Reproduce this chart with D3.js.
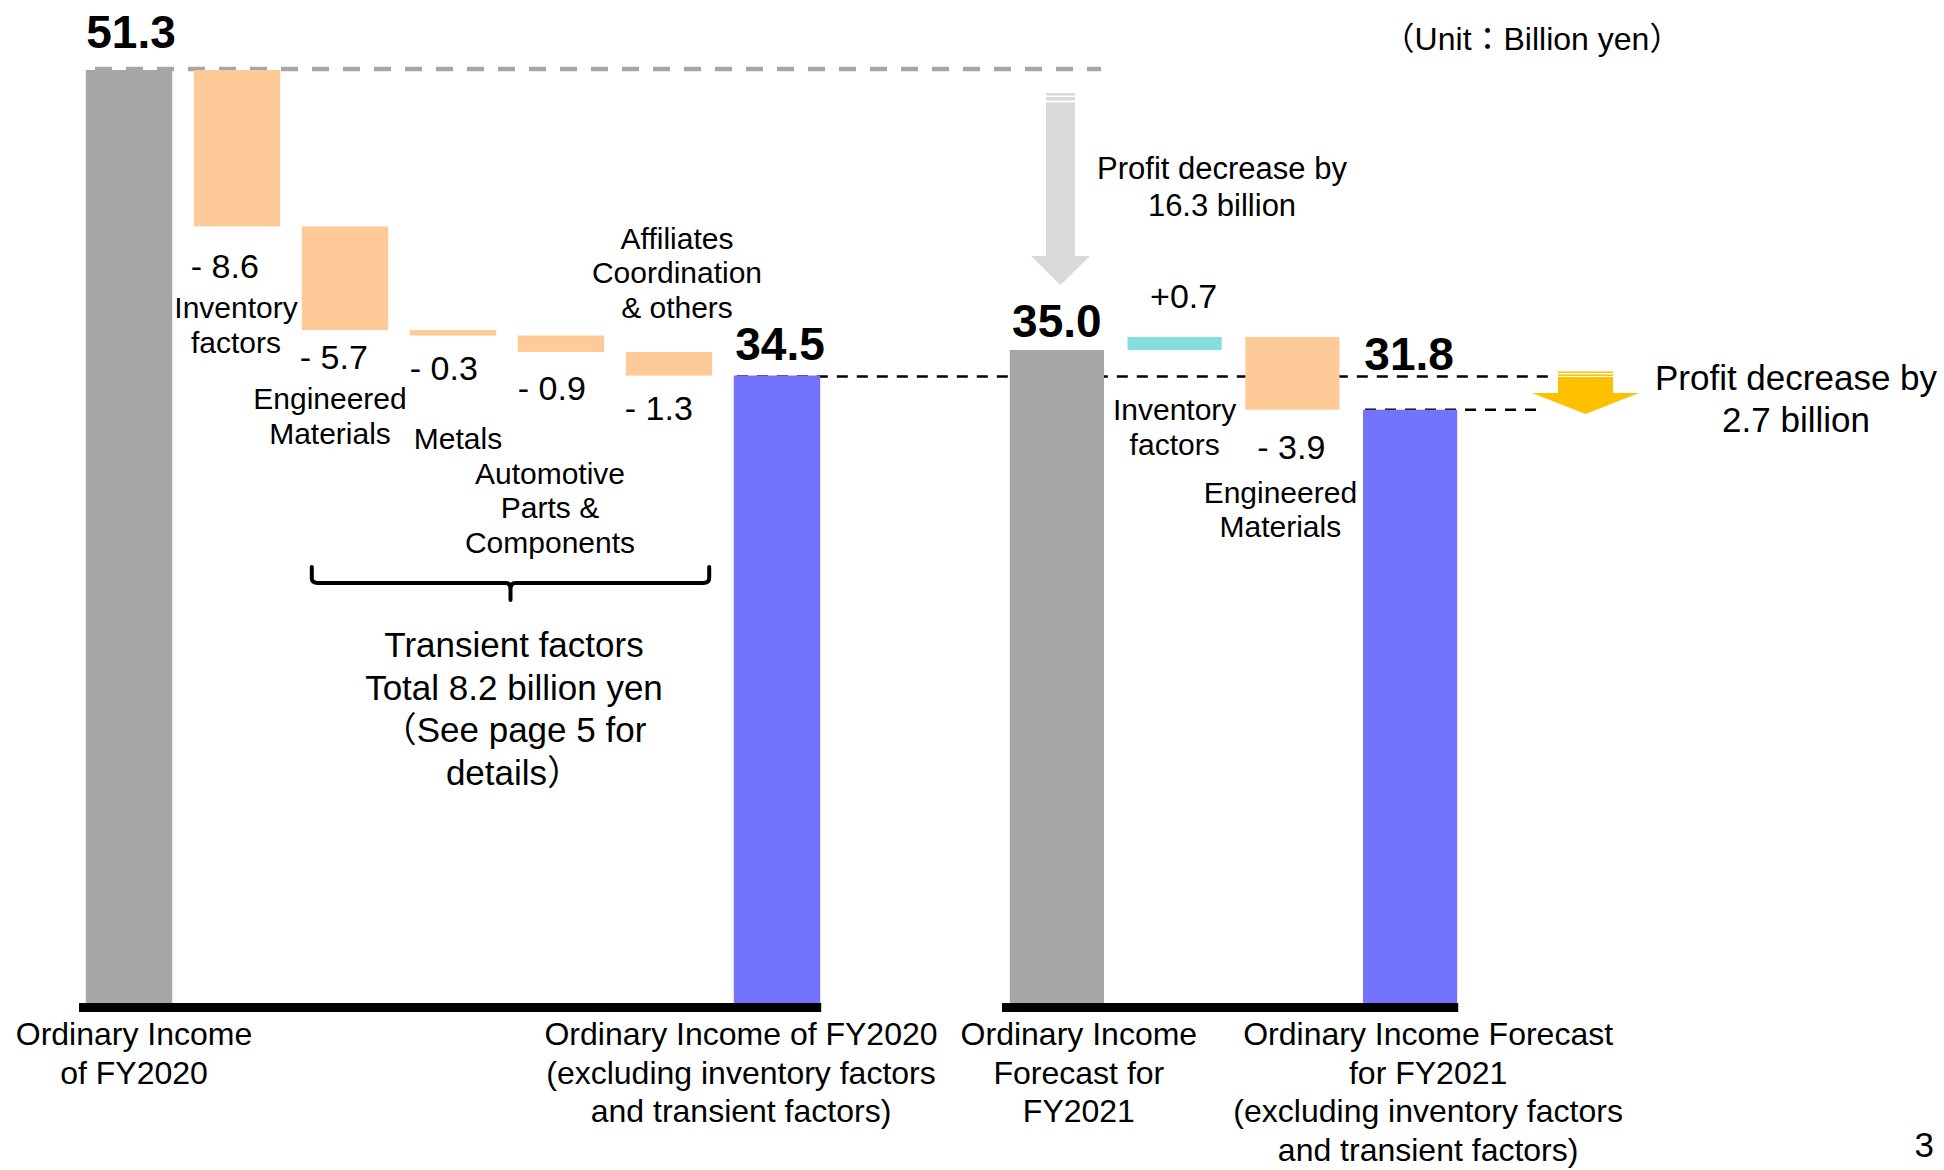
<!DOCTYPE html>
<html>
<head>
<meta charset="utf-8">
<script src="https://cdn.jsdelivr.net/npm/d3@7"></script>
<style>
  body { margin: 0; background: #fff; }
  svg text { font-family: "Liberation Sans", Arial, "Noto Sans CJK JP", sans-serif; fill: #000; }
</style>
</head>
<body>
<svg id="chart"></svg>
<script>
// FY2020 result -> FY2020 excluding inventory / transient factors (billion yen)
const leftStart = 51.3;
const leftDeltas = [-8.6, -5.7, -0.3, -0.9, -1.3];
const leftEnd = 34.5;
const leftNames = [
  ["Ordinary Income", "of FY2020"],
  ["Inventory", "factors"],
  ["Engineered", "Materials"],
  ["Metals"],
  ["Automotive", "Parts &", "Components"],
  ["Affiliates", "Coordination", "& others"],
  ["Ordinary Income of FY2020", "(excluding inventory factors", "and transient factors)"]
];

// FY2021 forecast -> FY2021 excluding inventory / transient factors
const rightStart = 35.0;
const rightDeltas = [0.7, -3.9];
const rightEnd = 31.8;
const rightNames = [
  ["Ordinary Income", "Forecast for", "FY2021"],
  ["Inventory", "factors"],
  ["Engineered", "Materials"],
  ["Ordinary Income Forecast", "for FY2021", "(excluding inventory factors", "and transient factors)"]
];

const transientText = ["Transient factors", "Total 8.2 billion yen", "（See page 5 for", "details）"];
const bigDropText = ["Profit decrease by", "16.3 billion"];
const smallDropText = ["Profit decrease by", "2.7 billion"];
const unitText = "（Unit：Billion yen）";
const pageNo = "3";

const ctx = {
  width: 1944,
  height: 1170,
  base: 1003,
  colors: { total: "#a6a6a6", end: "#7373fb", down: "#fdca98", up: "#85e0dd" }
};

// label placement, relative to each bar (value label: dx from bar left, dy from bar bottom / top)
const leftLabelPos = [
  null,
  { vdx: -3, vdy: 52, ndx: -1, ndy: 92 },
  { vdx: -2, vdy: 39, ndx: -15, ndy: 79 },
  { vdx: 0, vdy: 44, ndx: 5, ndy: 113 },
  { vdx: 0, vdy: 48, ndx: -11, ndy: 132 },
  { vdx: -1, vdy: 44, ndx: 8, ndy: -103, above: true },
  null
];
const rightLabelPos = [
  null,
  { vdx: 9, vdy: -29, ndx: 0, ndy: 70, valueAbove: true, vmid: true },
  { vdx: 12, vdy: 49, ndx: -12, ndy: 93 },
  null
];

function buildSteps(start, deltas, end) {
  const steps = [{ kind: "total", v0: 0, v1: start, value: start }];
  let run = start;
  deltas.forEach(d => {
    const next = Math.round((run + d) * 10) / 10;
    steps.push({ kind: d < 0 ? "down" : "up", v0: run, v1: next, value: d });
    run = next;
  });
  steps.push({ kind: "end", v0: 0, v1: end, value: end });
  return steps;
}

const svg = d3.select("#chart")
  .attr("width", ctx.width)
  .attr("height", ctx.height);

function multiLine(sel, lines, x, y, lh) {
  const t = sel.append("text").attr("text-anchor", "middle");
  lines.forEach((l, i) => {
    t.append("tspan").attr("x", x).attr("y", y + i * lh).text(l);
  });
  return t;
}

function fmtDelta(v) {
  return v < 0 ? "- " + Math.abs(v).toFixed(1) : "+" + v.toFixed(1);
}

function drawWaterfall(g, steps, names, labelPos, x, y, totalPos, bottomDx) {
  const bw = x.bandwidth();

  g.selectAll("rect.step")
    .data(steps)
    .enter()
    .append("rect")
      .attr("class", "step")
      .attr("x", (d, i) => x(i))
      .attr("width", bw)
      .attr("y", d => y(Math.max(d.v0, d.v1)))
      .attr("height", d => Math.abs(y(d.v0) - y(d.v1)))
      .attr("fill", d => ctx.colors[d.kind]);

  // base line
  g.append("line")
    .attr("x1", x.range()[0] + 4)
    .attr("x2", x(steps.length - 1) + bw + 1)
    .attr("y1", ctx.base + 4.5)
    .attr("y2", ctx.base + 4.5)
    .attr("stroke", "#000")
    .attr("stroke-width", 9);

  steps.forEach((d, i) => {
    const cx = x(i) + bw / 2;
    if (d.kind === "total" || d.kind === "end") {
      const tp = totalPos[d.kind];
      g.append("text")
        .attr("x", cx + tp.dx)
        .attr("y", y(d.v1) + tp.dy)
        .attr("text-anchor", "middle")
        .style("font-size", "46px")
        .style("font-weight", "bold")
        .text(d.value.toFixed(1));
      multiLine(g, names[i], cx + bottomDx[d.kind], 1045, 38.7)
        .style("font-size", "32px");
    } else {
      const p = labelPos[i];
      const top = y(Math.max(d.v0, d.v1));
      const bottom = y(Math.min(d.v0, d.v1));
      g.append("text")
        .attr("x", p.vmid ? cx + p.vdx : x(i) + p.vdx)
        .attr("y", (p.valueAbove ? top : bottom) + p.vdy)
        .attr("text-anchor", p.vmid ? "middle" : "start")
        .style("font-size", "34px")
        .text(fmtDelta(d.value));
      multiLine(g, names[i], cx + p.ndx, (p.above ? top : bottom) + p.ndy, 34.5)
        .style("font-size", "30px");
    }
  });
}

const leftSteps = buildSteps(leftStart, leftDeltas, leftEnd);
const rightSteps = buildSteps(rightStart, rightDeltas, rightEnd);

const xL = d3.scaleBand().domain(d3.range(leftSteps.length))
  .range([75, 831]).paddingInner(0.2).paddingOuter(0.1);
const yL = d3.scaleLinear().domain([0, leftStart]).range([ctx.base, 70]);

const xR = d3.scaleBand().domain(d3.range(rightSteps.length))
  .range([998, 1469]).paddingInner(0.2).paddingOuter(0.1);
const yR = d3.scaleLinear().domain([0, rightStart]).range([ctx.base, 350]);

// reference dashed lines (behind bars)
const guides = svg.append("g");
guides.append("line")
  .attr("x1", 95).attr("x2", 1101)
  .attr("y1", yL(leftStart) - 1).attr("y2", yL(leftStart) - 1)
  .attr("stroke", "#a6a6a6").attr("stroke-width", 4.5)
  .attr("stroke-dasharray", "17,14");
guides.append("line")
  .attr("x1", xL(leftSteps.length - 1) + 3).attr("x2", 1550)
  .attr("y1", yL(leftEnd) + 1).attr("y2", yL(leftEnd) + 1)
  .attr("stroke", "#000").attr("stroke-width", 2.5)
  .attr("stroke-dasharray", "11,9");
guides.append("line")
  .attr("x1", xR(rightSteps.length - 1) + 2).attr("x2", 1544)
  .attr("y1", yR(rightEnd)).attr("y2", yR(rightEnd))
  .attr("stroke", "#000").attr("stroke-width", 2.5)
  .attr("stroke-dasharray", "11,9");

drawWaterfall(svg.append("g"), leftSteps, leftNames, leftLabelPos, xL, yL,
  { total: { dx: 2, dy: -22 }, end: { dx: 3, dy: -16 } },
  { total: 5, end: -36 });
drawWaterfall(svg.append("g"), rightSteps, rightNames, rightLabelPos, xR, yR,
  { total: { dx: 0, dy: -13 }, end: { dx: -1, dy: -40 } },
  { total: 22, end: 18 });

// brace under the transient factors
const bx0 = xL(2) + 10, bx1 = xL(5) + xL.bandwidth() - 3, bmid = (bx0 + bx1) / 2, by = 583;
svg.append("path")
  .attr("d", `M${bx0},567 L${bx0},${by - 5} Q${bx0},${by} ${bx0 + 6},${by}
              L${bmid - 5},${by} Q${bmid},${by} ${bmid},${by + 6} L${bmid},600
              M${bmid},${by + 6} Q${bmid},${by} ${bmid + 5},${by}
              L${bx1 - 6},${by} Q${bx1},${by} ${bx1},${by - 5} L${bx1},567`)
  .attr("fill", "none")
  .attr("stroke", "#000")
  .attr("stroke-width", 4)
  .attr("stroke-linecap", "round");

multiLine(svg, transientText, 514, 657, 42.7).style("font-size", "35px");

// striped block arrow
function blockArrow(cx, shaftW, headW, top, headTop, tip, color, stripes) {
  const g = svg.append("g").attr("fill", color);
  stripes.forEach(s => {
    g.append("rect").attr("x", cx - shaftW / 2).attr("width", shaftW)
      .attr("y", s[0]).attr("height", s[1] - s[0]);
  });
  g.append("path")
    .attr("d", `M${cx - shaftW / 2},${top} L${cx + shaftW / 2},${top} L${cx + shaftW / 2},${headTop}
                L${cx + headW / 2},${headTop} L${cx},${tip} L${cx - headW / 2},${headTop}
                L${cx - shaftW / 2},${headTop} Z`);
}

blockArrow(1060.5, 29, 59, 102.5, 256, 285, "#d9d9d9", [[93, 95.5], [97, 100.5]]);
blockArrow(1585.5, 55, 107, 377, 393, 414, "#ffc000", [[371.5, 373], [374.5, 376]]);

multiLine(svg, bigDropText, 1222, 179, 37).style("font-size", "31px");
multiLine(svg, smallDropText, 1796, 390, 42).style("font-size", "35px");

svg.append("text")
  .attr("x", 1532).attr("y", 50)
  .attr("text-anchor", "middle")
  .style("font-size", "32px")
  .text(unitText);

svg.append("text")
  .attr("x", 1934).attr("y", 1157)
  .attr("text-anchor", "end")
  .style("font-size", "35px")
  .text(pageNo);
</script>
</body>
</html>
